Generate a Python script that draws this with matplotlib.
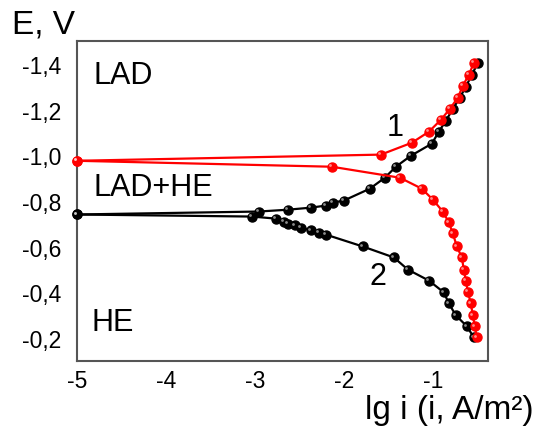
import matplotlib
matplotlib.use("Agg")
import matplotlib.pyplot as plt
from matplotlib.ticker import FuncFormatter
from matplotlib.transforms import ScaledTranslation

plt.rcParams['font.family'] = ['Liberation Sans', 'DejaVu Sans']

# curve 1, red (upper and lower branch)
red_up_x = [-5.0, -1.584, -1.236, -1.045, -0.910, -0.809, -0.719, -0.663, -0.596, -0.539]
red_up_E = [-0.976, -1.003, -1.055, -1.103, -1.155, -1.203, -1.252, -1.304, -1.352, -1.404]
red_lo_x = [-5.0, -2.135, -1.371, -1.124, -1.0, -0.888, -0.820, -0.775, -0.730, -0.674,
            -0.652, -0.629, -0.607, -0.573, -0.551, -0.528, -0.506]
red_lo_E = [-0.976, -0.950, -0.902, -0.854, -0.806, -0.754, -0.706, -0.658, -0.601, -0.553,
            -0.500, -0.452, -0.404, -0.352, -0.300, -0.252, -0.203]

# curve 2, black
blk_up_x = [-5.0, -2.955, -2.629, -2.371, -2.202, -2.124, -2.0, -1.708, -1.539, -1.416,
            -1.247, -1.011, -0.933, -0.854, -0.775, -0.697, -0.629, -0.562, -0.494]
blk_up_E = [-0.741, -0.754, -0.762, -0.771, -0.780, -0.793, -0.802, -0.854, -0.902, -0.950,
            -0.998, -1.051, -1.103, -1.151, -1.203, -1.252, -1.300, -1.352, -1.404]
blk_lo_x = [-5.0, -3.034, -2.764, -2.674, -2.629, -2.551, -2.483, -2.371, -2.281, -2.202,
            -1.787, -1.438, -1.281, -1.045, -0.876, -0.820, -0.742, -0.618, -0.539]
blk_lo_E = [-0.741, -0.732, -0.723, -0.710, -0.701, -0.693, -0.684, -0.671, -0.662, -0.653,
            -0.601, -0.553, -0.500, -0.452, -0.400, -0.352, -0.300, -0.252, -0.203]

xticks = [-5, -4, -3, -2, -1]
yticks = [-1.4, -1.2, -1.0, -0.8, -0.6, -0.4, -0.2]

fig = plt.figure(figsize=(5.4, 4.27), dpi=100)
ax = fig.add_axes([0.1426, 0.1522, 0.7611, 0.7494])


def sphere_line(x, y, col, z):
    ax.plot(x, y, '-', color=col, lw=1.6, zorder=z, clip_on=False)
    ax.plot(x, y, 'o', color=col, ms=6.5, mec=col, zorder=z + 0.1, clip_on=False)
    # small highlight to give the ball look
    off = ax.transData + ScaledTranslation(-1.2 / 72, 1.2 / 72, fig.dpi_scale_trans)
    ax.plot(x, y, 'o', color='white', alpha=0.55, ms=2.0, mec='none',
            transform=off, zorder=z + 0.2, clip_on=False)


sphere_line(blk_lo_x, blk_lo_E, 'black', 3)
sphere_line(blk_up_x, blk_up_E, 'black', 3)
sphere_line(red_lo_x, red_lo_E, '#ff0000', 4)
sphere_line(red_up_x, red_up_E, '#ff0000', 4)

ax.set_xlim(-5, -0.38)
ax.set_ylim(-0.1, -1.5)
ax.set_xticks(xticks)
ax.set_yticks(yticks)
ax.yaxis.set_major_formatter(FuncFormatter(lambda v, p: ('%.1f' % v).replace('.', ',')))
ax.xaxis.set_major_formatter(FuncFormatter(lambda v, p: '%d' % v))
ax.tick_params(length=0, labelsize=16.5)
ax.tick_params(axis='y', pad=11)
ax.tick_params(axis='x', pad=6)
for s in ax.spines.values():
    s.set_color('#555555')
    s.set_linewidth(1.5)

ax.text(-4.81, -1.352, 'LAD', fontsize=22, va='center', ha='left')
ax.text(-4.81, -0.863, 'LAD+HE', fontsize=22, va='center', ha='left')
ax.text(-4.84, -0.269, 'HE', fontsize=22, va='center', ha='left')
ax.text(-1.427, -1.125, '1', fontsize=22, va='center', ha='center')
ax.text(-1.618, -0.474, '2', fontsize=22, va='center', ha='center')

fig.text(12 / 540, 1 - 25 / 427, 'E, V', fontsize=24, va='center', ha='left')
fig.text(534 / 540, 1 - 419 / 427, 'lg i (i, A/m²)', fontsize=24,
         va='baseline', ha='right')

fig.savefig('out.png', dpi=100)
